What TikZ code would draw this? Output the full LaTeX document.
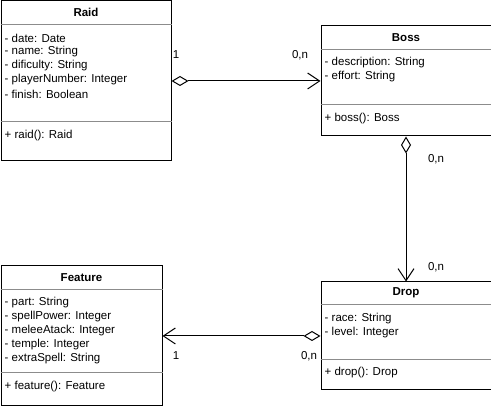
\documentclass[tikz,border=0pt]{standalone}
\usepackage{fontspec}
\setmainfont{Liberation Sans}
\usetikzlibrary{arrows.meta}
\begin{document}
\begin{tikzpicture}[x=1pt,y=-1pt,
  classbox/.style={draw=black, line width=1pt, anchor=north west, inner sep=0pt, minimum width=170pt},
  sepline/.style={draw=black!45, line width=1pt},
  ctitle/.style={font=\fontsize{11.5}{13}\selectfont\bfseries, inner sep=0pt},
  attr/.style={font=\fontsize{11.5}{13}\selectfont, anchor=west, inner sep=0pt},
  mult/.style={font=\fontsize{11.5}{13}\selectfont, inner sep=0pt},
  assoc/.style={line width=1pt, {Diamond[open,length=17pt,width=10pt]}-{Straight Barb[length=12pt,width=16pt]}}]
\useasboundingbox (0,0) rectangle (491,406);

% Raid
\node[classbox, minimum height=160pt] (raid) at (0.5,0.5) {};
\draw[sepline] ([yshift=-24pt]raid.north west) -- ([yshift=-24pt]raid.north east);
\draw[sepline] ([yshift=-121pt]raid.north west) -- ([yshift=-121pt]raid.north east);
\node[ctitle] (raidT) at ([yshift=-12pt]raid.north) {Raid};
\node[attr] (raidA1) at ([xshift=4pt,yshift=-37.5pt]raid.north west) {- date: Date};
\node[attr] (raidA2) at ([xshift=4pt,yshift=-51.5pt]raid.north west) {- name: String};
\node[attr] (raidA3) at ([xshift=4pt,yshift=-65.5pt]raid.north west) {- dificulty: String};
\node[attr] (raidA4) at ([xshift=4pt,yshift=-79.5pt]raid.north west) {- playerNumber: Integer};
\node[attr] (raidA5) at ([xshift=4pt,yshift=-93.5pt]raid.north west) {- finish: Boolean};
\node[attr] (raidM1) at ([xshift=4pt,yshift=-135pt]raid.north west) {+ raid(): Raid};

% Boss
\node[classbox, minimum height=110pt] (boss) at (320.5,25.5) {};
\draw[sepline] ([yshift=-24pt]boss.north west) -- ([yshift=-24pt]boss.north east);
\draw[sepline] ([yshift=-79pt]boss.north west) -- ([yshift=-79pt]boss.north east);
\node[ctitle] (bossT) at ([yshift=-12pt]boss.north) {Boss};
\node[attr] (bossA1) at ([xshift=4pt,yshift=-37.5pt]boss.north west) {- description: String};
\node[attr] (bossA2) at ([xshift=4pt,yshift=-51.5pt]boss.north west) {- effort: String};
\node[attr] (bossM1) at ([xshift=4pt,yshift=-93pt]boss.north west) {+ boss(): Boss};

% Drop
\node[classbox, minimum height=108pt] (drop) at (320.5,281.5) {};
\draw[sepline] ([yshift=-23pt]drop.north west) -- ([yshift=-23pt]drop.north east);
\draw[sepline] ([yshift=-78pt]drop.north west) -- ([yshift=-78pt]drop.north east);
\node[ctitle] (dropT) at ([yshift=-11.5pt]drop.north) {Drop};
\node[attr] (dropA1) at ([xshift=4pt,yshift=-37pt]drop.north west) {- race: String};
\node[attr] (dropA2) at ([xshift=4pt,yshift=-51pt]drop.north west) {- level: Integer};
\node[attr] (dropM1) at ([xshift=4pt,yshift=-91.5pt]drop.north west) {+ drop(): Drop};

% Feature
\node[classbox, minimum width=161pt, minimum height=140pt] (feature) at (0.5,265.5) {};
\draw[sepline] ([yshift=-24pt]feature.north west) -- ([yshift=-24pt]feature.north east);
\draw[sepline] ([yshift=-107pt]feature.north west) -- ([yshift=-107pt]feature.north east);
\node[ctitle] (featureT) at ([yshift=-12pt]feature.north) {Feature};
\node[attr] (featureA1) at ([xshift=4pt,yshift=-37.5pt]feature.north west) {- part: String};
\node[attr] (featureA2) at ([xshift=4pt,yshift=-51.5pt]feature.north west) {- spellPower: Integer};
\node[attr] (featureA3) at ([xshift=4pt,yshift=-65.5pt]feature.north west) {- meleeAtack: Integer};
\node[attr] (featureA4) at ([xshift=4pt,yshift=-79.5pt]feature.north west) {- temple: Integer};
\node[attr] (featureA5) at ([xshift=4pt,yshift=-93.5pt]feature.north west) {- extraSpell: String};
\node[attr] (featureM1) at ([xshift=4pt,yshift=-121pt]feature.north west) {+ feature(): Feature};

% Associations
\draw[assoc] (raid.east |- boss.west) -- (boss.west);
\draw[assoc] (boss.south) -- (drop.north);
\draw[assoc] (drop.west) -- (feature.east |- drop.west);

% Multiplicities
\node[mult] (m1) at (176,55) {1};
\node[mult] (m2) at (300,55) {0,n};
\node[mult] (m3) at (436,159) {0,n};
\node[mult] (m4) at (436,267) {0,n};
\node[mult] (m5) at (176,356) {1};
\node[mult] (m6) at (309,356) {0,n};
\end{tikzpicture}
\end{document}
